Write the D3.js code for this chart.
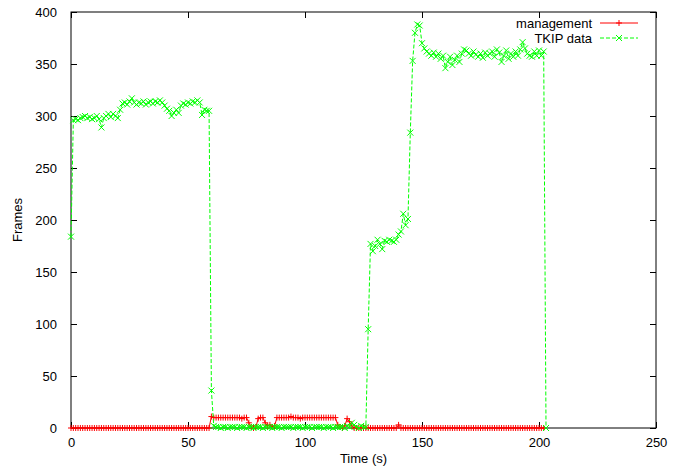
<!DOCTYPE html>
<html>
<head>
<meta charset="utf-8">
<script src="https://cdn.jsdelivr.net/npm/d3@7"></script>
<style>
  body { margin: 0; background: #fff; }
  text { font-family: "Liberation Sans", Arial, Helvetica, sans-serif; font-size: 13px; fill: #000; }
</style>
</head>
<body>
<div id="chart"></div>
<script>
// one sample per second, index = time (s)
const management = [
  0,0,0,0,0,0,0,0,0,0, 0,0,0,0,0,0,0,0,0,0,
  0,0,0,0,0,0,0,0,0,0, 0,0,0,0,0,0,0,0,0,0,
  0,0,0,0,0,0,0,0,0,0, 0,0,0,0,0,0,0,0,0,0,
  11,10,10,10,10,10,10,10,10,10, 10,10,10,9,10,10,5,1,0,1,
  9,10,10,5,2,3,1,2,10,10, 10,10,10,10,11,10,10,10,9,10,
  10,10,10,10,10,10,10,10,10,10, 10,10,10,10,3,1,0,2,9,6,
  2,0,0,0,0,0,0,0,0,0, 0,0,0,0,0,0,0,0,0,0,
  3,0,0,0,0,0,0,0,0,0, 0,0,0,0,0,0,0,0,0,0,
  0,0,0,0,0,0,0,0,0,0, 0,0,0,0,0,0,0,0,0,0,
  0,0,0,0,0,0,0,0,0,0, 0,0,0,0,0,0,0,0,0,0,
  0,0,0
];

const tkipData = [
  184,296,297,296,298,299,300,298,299,297, 298,300,297,289,298,300,302,299,302,300,
  298,306,312,313,311,314,317,313,311,313, 312,314,311,313,314,312,314,313,315,313,
  310,307,305,300,303,306,303,310,312,311, 313,312,314,313,315,313,301,306,305,305,
  36,2,1,1,0,1,1,0,1,1, 1,0,1,1,1,0,1,1,0,1,
  1,1,0,1,1,1,0,1,1,1, 0,1,1,1,1,0,1,1,1,0,
  1,1,1,0,1,1,1,1,0,1, 1,1,0,1,1,1,1,0,2,1,
  5,3,1,0,2,1,1,95,177,170, 175,181,177,172,180,179,181,180,179,181,
  186,189,206,195,201,284,353,380,388,387, 370,365,362,360,358,361,357,360,355,358,
  346,352,357,349,354,358,352,360,364,363, 360,358,362,359,357,360,356,361,358,360,
  362,357,364,361,352,358,363,355,360,357, 362,358,364,371,365,360,358,357,362,358,
  363,358,362,0
];

const xTicks = [0, 50, 100, 150, 200, 250];
const yTicks = [0, 50, 100, 150, 200, 250, 300, 350, 400];

const width = 681, height = 468;
const margin = { top: 12, right: 25, bottom: 40, left: 71 };
const plotW = width - margin.left - margin.right;
const plotH = height - margin.top - margin.bottom;

const svg = d3.select("#chart").append("svg")
  .attr("width", width)
  .attr("height", height);

const g = svg.append("g")
  .attr("transform", `translate(${margin.left},${margin.top})`);

const x = d3.scaleLinear().domain([0, 250]).range([0, plotW]);
const y = d3.scaleLinear().domain([0, 400]).range([plotH, 0]);

const tickLen = 6;

// ticks on all four sides, pointing inward (gnuplot style)
g.append("g")
  .attr("transform", `translate(0,${plotH})`)
  .call(d3.axisBottom(x).tickValues(xTicks).tickSizeInner(-tickLen).tickSizeOuter(0).tickPadding(10))
  .call(a => a.select(".domain").remove());
g.append("g")
  .call(d3.axisTop(x).tickValues(xTicks).tickSizeInner(-tickLen).tickSizeOuter(0).tickFormat(""))
  .call(a => a.select(".domain").remove());
g.append("g")
  .call(d3.axisLeft(y).tickValues(yTicks).tickSizeInner(-tickLen).tickSizeOuter(0).tickPadding(14))
  .call(a => a.select(".domain").remove());
g.append("g")
  .attr("transform", `translate(${plotW},0)`)
  .call(d3.axisRight(y).tickValues(yTicks).tickSizeInner(-tickLen).tickSizeOuter(0).tickFormat(""))
  .call(a => a.select(".domain").remove());

g.selectAll(".tick text")
  .style("font-family", "'Liberation Sans', Arial, sans-serif")
  .style("font-size", "13px");

// border
g.append("rect")
  .attr("width", plotW)
  .attr("height", plotH)
  .attr("fill", "none")
  .attr("stroke", "#000")
  .attr("stroke-width", 1);

const line = d3.line()
  .x((d, i) => x(i))
  .y(d => y(d));

// management: solid red with + markers
g.append("path")
  .datum(management)
  .attr("d", line)
  .attr("fill", "none")
  .attr("stroke", "#ff0000")
  .attr("stroke-width", 1);

const plusPath = "M-3,0H3M0,-3V3";
const crossPath = "M-3,-3L3,3M-3,3L3,-3";

g.selectAll(".mgmt")
  .data(management)
  .enter()
  .append("path")
    .attr("class", "mgmt")
    .attr("transform", (d, i) => `translate(${x(i)},${y(d)})`)
    .attr("d", plusPath)
    .attr("stroke", "#ff0000")
    .attr("stroke-width", 1);

// TKIP data: dashed green with x markers
g.append("path")
  .datum(tkipData)
  .attr("d", line)
  .attr("fill", "none")
  .attr("stroke", "#00ff00")
  .attr("stroke-width", 1)
  .attr("stroke-dasharray", "4,2");

g.selectAll(".tkip")
  .data(tkipData)
  .enter()
  .append("path")
    .attr("class", "tkip")
    .attr("transform", (d, i) => `translate(${x(i)},${y(d)})`)
    .attr("d", crossPath)
    .attr("stroke", "#00ff00")
    .attr("stroke-width", 1);

// axis titles
svg.append("text")
  .attr("x", margin.left + plotW / 2)
  .attr("y", 463)
  .attr("text-anchor", "middle")
  .text("Time (s)");

svg.append("text")
  .attr("transform", `translate(22,${margin.top + plotH / 2}) rotate(-90)`)
  .attr("text-anchor", "middle")
  .text("Frames");

// legend
const legend = svg.append("g");
const legendItems = [
  { name: "management", color: "#ff0000", dash: null, marker: plusPath, yPos: 23 },
  { name: "TKIP data", color: "#00ff00", dash: "4,2", marker: crossPath, yPos: 38 }
];
legendItems.forEach(item => {
  legend.append("text")
    .attr("x", 592)
    .attr("y", item.yPos + 4.5)
    .attr("text-anchor", "end")
    .text(item.name);
  legend.append("line")
    .attr("x1", 600).attr("x2", 638)
    .attr("y1", item.yPos).attr("y2", item.yPos)
    .attr("stroke", item.color)
    .attr("stroke-dasharray", item.dash);
  legend.append("path")
    .attr("transform", `translate(619,${item.yPos})`)
    .attr("d", item.marker)
    .attr("stroke", item.color);
});
</script>
</body>
</html>
